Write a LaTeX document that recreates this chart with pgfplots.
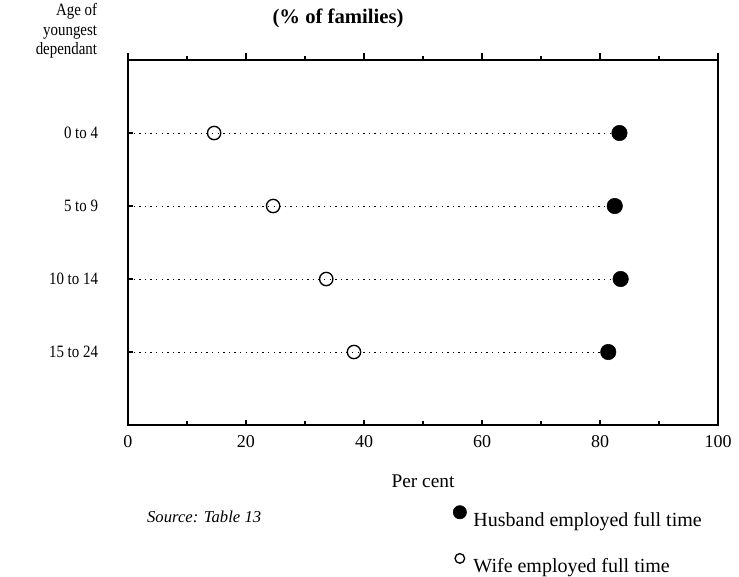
\documentclass[border=0pt]{standalone}
\usepackage{fontspec}
\setmainfont{Liberation Serif}
\newfontfamily\cf[FakeStretch=0.86]{Liberation Serif}
\usepackage{pgfplots}
\pgfplotsset{compat=1.18}
\pgfplotsset{
  hlegimg/.style={legend image code/.code={\path (-6pt,0pt) (8pt,0pt); \draw[##1, mark size=5pt] plot coordinates {(0pt,6pt)};}},
  wlegimg/.style={legend image code/.code={\path (-6pt,0pt) (8pt,0pt); \draw[##1, mark size=3.6pt] plot coordinates {(0pt,6pt)};}},
  common/.style={
  scale only axis,
  width=442.5pt, height=273.75pt,
  xmin=0, xmax=100, ymin=0, ymax=5,
  xtick={0,20,40,60,80,100},
  minor xtick={10,30,50,70,90},
  axis line style={line width=1pt},
  every tick/.style={black, line width=0.8pt},
}}
\begin{document}
\begin{tikzpicture}
\begin{axis}[
  common,
  name=main,
  ytick={1,2,3,4},
  yticklabels={15 to 24,10 to 14,5 to 9,0 to 4},
  xtick pos=bottom, ytick pos=left,
  tick align=inside,
  major tick length=4pt, minor tick length=3pt,
  /pgf/number format/assume math mode=true,
  xticklabel style={font=\fontsize{13.5}{15}\selectfont, yshift=-4.5pt},
  yticklabel style={font=\cf\fontsize{13}{15}\selectfont, xshift=-19pt},
  xlabel={Per cent},
  xlabel style={at={(axis description cs:0.5,-0.154)}, anchor=center, font=\fontsize{14.5}{16}\selectfont},
  legend style={at={(rel axis cs:0.548,-0.220)}, anchor=north west, draw=none, fill=none,
     font=\fontsize{15}{17}\selectfont, row sep=17pt, inner sep=0pt,
     legend cell align=left},
  clip=false,
]
\addplot[black, line width=0.7pt, dash pattern=on 1pt off 3.2pt, forget plot] coordinates {(0,4) (83.3,4)};
\addplot[black, line width=0.7pt, dash pattern=on 1pt off 3.2pt, forget plot] coordinates {(0,3) (82.5,3)};
\addplot[black, line width=0.7pt, dash pattern=on 1pt off 3.2pt, forget plot] coordinates {(0,2) (83.5,2)};
\addplot[black, line width=0.7pt, dash pattern=on 1pt off 3.2pt, forget plot] coordinates {(0,1) (81.4,1)};
\addplot[only marks, mark=*, mark size=5.8pt, mark options={fill=black, draw=black}, hlegimg]
  coordinates {(83.3,4) (82.5,3) (83.5,2) (81.4,1)};
\addlegendentry{Husband employed full time}
\addplot[only marks, mark=o, mark size=5pt, mark options={fill=white, draw=black, line width=1pt}, wlegimg]
  coordinates {(14.6,4) (24.6,3) (33.6,2) (38.3,1)};
\addlegendentry{Wife employed full time}
\node[anchor=center, font=\bfseries\fontsize{15.5}{17}\selectfont] at (rel axis cs:0.356,1.115) {(\% of families)};
\node[anchor=north east, align=right, font=\cf\fontsize{13}{14.5}\selectfont, inner sep=0pt] at (rel axis cs:-0.052,1.155) {Age of\\youngest\\dependant};
\node[anchor=west, font=\itshape\fontsize{12.5}{14}\selectfont, inner sep=0pt] at (rel axis cs:0.032,-0.252) {Source: Table 13};
\end{axis}
\begin{axis}[
  common,
  axis x line*=top,
  axis y line=none,
  xticklabels={},
  tick align=outside,
  major tick length=5pt, minor tick length=3pt,
]
\end{axis}
\pgfresetboundingbox
\path[use as bounding box] ([shift={(-96pt,-113.25pt)}]main.south west) rectangle ([shift={(458.25pt,318.75pt)}]main.south west);
\end{tikzpicture}
\end{document}
